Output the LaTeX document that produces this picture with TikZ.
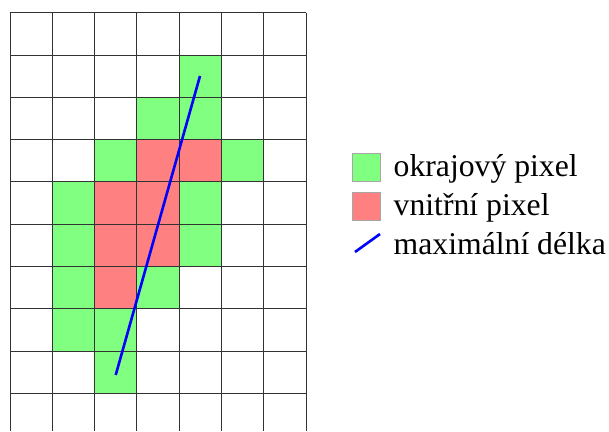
\documentclass[tikz,border=0pt]{standalone}
\usepackage{fontspec}
\setmainfont{Liberation Serif}
\newfontfamily\legfont{Liberation Serif}
\definecolor{edgegreen}{HTML}{80FF80}
\definecolor{innerred}{HTML}{FF8080}
\definecolor{gridgray}{HTML}{333333}
\begin{document}
\begin{tikzpicture}[x=1pt,y=-1pt,
  gcell/.style={fill=edgegreen},
  rcell/.style={fill=innerred},
  gridline/.style={draw=gridgray,line width=1pt},
  maxlen/.style={draw=blue,line width=2.6pt},
  legbox/.style={draw=gray!70,minimum width=27.5pt,minimum height=27.5pt,inner sep=0pt},
  legtext/.style={anchor=base west,inner sep=0pt,font=\legfont\fontsize{31.7}{34}\selectfont}]
\useasboundingbox (0,0) rectangle (609,431);
\def\cw{42.3}
\def\xo{10}
\def\yo{12.7}
% green cells
\foreach \c/\r in {4/1,3/2,4/2,2/3,5/3,1/4,4/4,1/5,4/5,1/6,3/6,1/7,2/7,2/8}
  \path[gcell] (\xo+\c*\cw,\yo+\r*\cw) rectangle ++(\cw,\cw);
% red cells
\foreach \c/\r in {3/3,4/3,2/4,3/4,2/5,3/5,2/6}
  \path[rcell] (\xo+\c*\cw,\yo+\r*\cw) rectangle ++(\cw,\cw);
% grid
\foreach \c in {0,...,7}
  \draw[gridline] (\xo+\c*\cw,\yo) -- (\xo+\c*\cw,431);
\foreach \r in {0,...,9}
  \draw[gridline] (\xo,\yo+\r*\cw) -- (\xo+7*\cw,\yo+\r*\cw);
% maximal length
\coordinate (mtop) at (200,76);
\coordinate (mbot) at (115.7,375);
\draw[maxlen] (mbot) -- (mtop);
% legend
\node[legbox,fill=edgegreen] (lg) at (366.2,167) {};
\node[legbox,fill=innerred] (lr) at (366.2,206.4) {};
\coordinate (lb1) at (355,252);
\coordinate (lb2) at (380,234);
\draw[maxlen] (lb1) -- (lb2);
\node[legtext] (tg) at (393.5,176) {okrajový pixel};
\node[legtext] (tr) at (393.5,215) {vnitřní pixel};
\node[legtext] (tb) at (393.5,254) {maximální délka};
\end{tikzpicture}
\end{document}
